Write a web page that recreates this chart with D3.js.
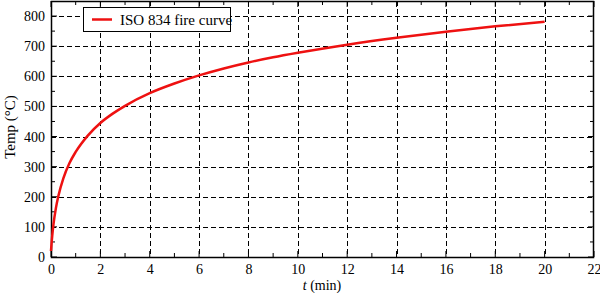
<!DOCTYPE html>
<html>
<head>
<meta charset="utf-8">
<script src="https://cdn.jsdelivr.net/npm/d3@7"></script>
<style>
  body { margin: 0; background: #fff; }
  svg { display: block; font-family: "Liberation Serif", "Times New Roman", serif; }
</style>
</head>
<body>
<svg width="600" height="293"></svg>
<script>
// ISO 834 curve
var times = [0, 0.02, 0.05, 0.1, 0.2, 0.3, 0.5, 0.75, 1, 1.5, 2, 2.5, 3, 4, 5, 6, 7, 8, 9, 10, 12, 14, 16, 18, 20];
var temps = [20, 42, 70, 108, 163, 203, 261, 312, 349, 404, 445, 476, 502, 544, 576, 603, 626, 646, 663, 678, 705, 728, 748, 766, 781];
var xTicks = [0, 2, 4, 6, 8, 10, 12, 14, 16, 18, 20, 22];
var yTicks = [0, 100, 200, 300, 400, 500, 600, 700, 800];
var seriesName = 'ISO 834 fire curve';

var svg = d3.select('svg');
var plotLeft = 51, plotRight = 594, plotTop = 1, plotBottom = 257;

var x = d3.scaleLinear().domain([0, 22]).range([plotLeft, plotRight]);
var y = d3.scaleLinear().domain([0, 850]).range([plotBottom, plotTop]);

var data = times.map(function(t, i) { return {t: t, v: temps[i]}; });

// grid
var grid = svg.append('g')
  .style('stroke', '#000')
  .style('stroke-width', 1)
  .style('stroke-dasharray', '5,3');

grid.selectAll('.gx')
  .data(xTicks.slice(1, -1))
  .enter()
  .append('line')
  .attr('x1', function(d) { return Math.round(x(d)) + 0.5; })
  .attr('x2', function(d) { return Math.round(x(d)) + 0.5; })
  .attr('y1', plotTop)
  .attr('y2', plotBottom);

grid.selectAll('.gy')
  .data(yTicks.slice(1))
  .enter()
  .append('line')
  .attr('y1', function(d) { return Math.round(y(d)) + 0.5; })
  .attr('y2', function(d) { return Math.round(y(d)) + 0.5; })
  .attr('x1', plotLeft)
  .attr('x2', plotRight);

// axes with inward ticks
var xMinor = d3.range(1, 22, 2);
var yMinor = d3.range(50, 850, 100);

svg.append('g')
  .attr('transform', 'translate(0,' + plotBottom + ')')
  .call(d3.axisBottom(x).tickValues(xTicks).tickSize(0).tickPadding(7).tickFormat(d3.format('d')))
  .call(function(g) { g.select('.domain').remove(); });

svg.append('g')
  .attr('transform', 'translate(' + plotLeft + ',0)')
  .call(d3.axisLeft(y).tickValues(yTicks).tickSize(0).tickPadding(6).tickFormat(d3.format('d')))
  .call(function(g) { g.select('.domain').remove(); });

svg.selectAll('.tick text')
  .style('font-family', '"Liberation Serif", serif')
  .style('font-size', '14px')
  .style('fill', '#000');

var ticks = svg.append('g').style('stroke', '#000').style('stroke-width', 1);

xMinor.concat(xTicks).forEach(function(d) {
  var len = xMinor.indexOf(d) >= 0 ? 4 : 6;
  ticks.append('line')
    .attr('x1', x(d)).attr('x2', x(d))
    .attr('y1', plotBottom).attr('y2', plotBottom - len);
  ticks.append('line')
    .attr('x1', x(d)).attr('x2', x(d))
    .attr('y1', plotTop).attr('y2', plotTop + len);
});

yMinor.concat(yTicks).forEach(function(d) {
  var len = yMinor.indexOf(d) >= 0 ? 4 : 6;
  ticks.append('line')
    .attr('y1', y(d)).attr('y2', y(d))
    .attr('x1', plotLeft).attr('x2', plotLeft + len);
  ticks.append('line')
    .attr('y1', y(d)).attr('y2', y(d))
    .attr('x1', plotRight).attr('x2', plotRight - len);
});

// frame
svg.append('rect')
  .attr('x', plotLeft + 0.5)
  .attr('y', plotTop + 0.5)
  .attr('width', plotRight - plotLeft - 1)
  .attr('height', plotBottom - plotTop)
  .style('fill', 'none')
  .style('stroke', '#000')
  .style('stroke-width', 1.5);

// curve
var line = d3.line()
  .x(function(d) { return x(d.t); })
  .y(function(d) { return y(d.v); })
  .curve(d3.curveMonotoneX);

svg.append('path')
  .datum(data)
  .attr('d', line)
  .style('fill', 'none')
  .style('stroke', '#ee1111')
  .style('stroke-width', 2.5);

// legend
var legend = svg.append('g');
legend.append('rect')
  .attr('x', 83.5).attr('y', 7.5)
  .attr('width', 147).attr('height', 24)
  .style('fill', '#fff')
  .style('stroke', '#000')
  .style('stroke-width', 1);
legend.append('line')
  .attr('x1', 92).attr('x2', 112)
  .attr('y1', 19.5).attr('y2', 19.5)
  .style('stroke', '#ee1111')
  .style('stroke-width', 2.5);
legend.append('text')
  .attr('x', 120).attr('y', 24.5)
  .style('font-size', '15px')
  .text(seriesName);

// axis titles
svg.append('text')
  .attr('transform', 'translate(15,' + 127 + ')rotate(-90)')
  .attr('text-anchor', 'middle')
  .style('font-size', '15px')
  .text('Temp (°C)');

var xl = svg.append('text')
  .attr('x', 322).attr('y', 290)
  .attr('text-anchor', 'middle')
  .style('font-size', '14px');
xl.append('tspan').style('font-style', 'italic').text('t');
xl.append('tspan').text(' (min)');
</script>
</body>
</html>
